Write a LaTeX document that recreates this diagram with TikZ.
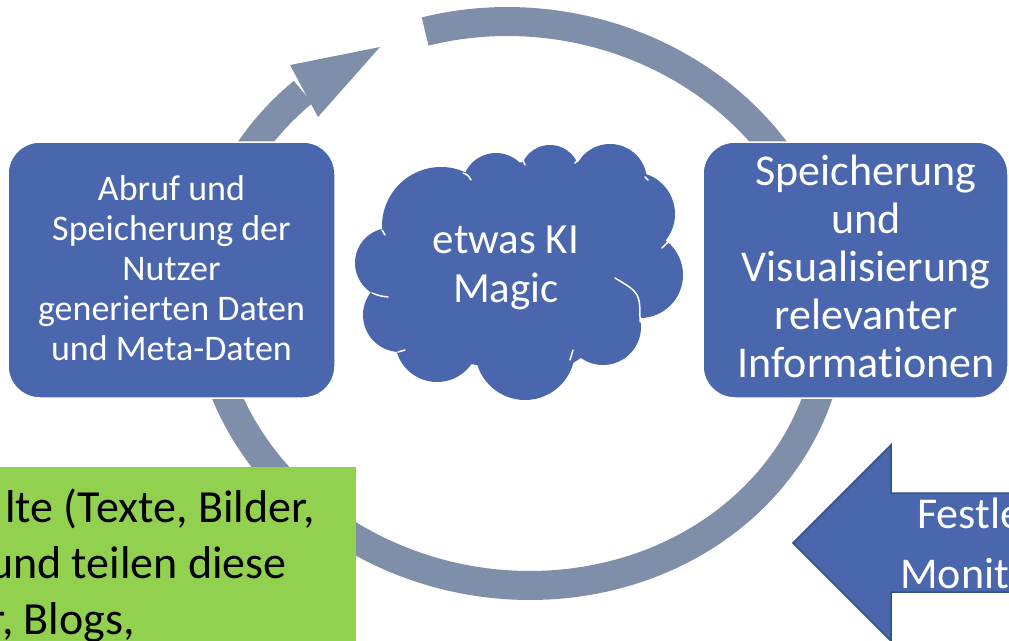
\documentclass[tikz,border=0pt]{standalone}
\usepackage{fontspec}
\setmainfont{Carlito}[Ligatures=NoCommon]
\definecolor{boxblue}{HTML}{4A66AC}
\definecolor{ringgrey}{HTML}{7F8FA9}
\definecolor{notegreen}{HTML}{92D050}
\definecolor{arrowrim}{HTML}{2F528F}
\newcommand\stack[1]{\begin{tabular}[t]{@{}c@{}}#1\end{tabular}}
\begin{document}
\begin{tikzpicture}[x=1pt,y=-1pt,
  ring/.style={draw=ringgrey, line width=29pt, line join=round},
  procbox/.style={rectangle, fill=boxblue, draw=white, line width=1.5pt, rounded corners=32pt, inner sep=0pt},
  boxtext/.style={text=white, inner sep=0pt, anchor=base},
  lobe/.style={fill=boxblue},
  puffline/.style={draw=white, line width=1.5pt, line cap=round},
  blockarrow/.style={fill=boxblue, draw=arrowrim, line width=1.5pt, line join=miter},
  notetext/.style={text=black, inner sep=0pt, anchor=base east, font=\fontsize{46}{56}\selectfont},
  arrowtext/.style={text=white, inner sep=0pt, anchor=base west, font=\fontsize{44}{60}\selectfont}]
\useasboundingbox (0,0) rectangle (1009,640);
\clip (0,0) rectangle (1009,640);

% cycle ring (slightly sheared ellipse) with its arrowhead
\draw[ring] plot[domain=254.7:588.6, samples=260, variable=\t]
  ({518.6+11.28*sin(\t)+313*cos(\t)}, {303.5+282*sin(\t)});
\fill[ringgrey] (290,65) -- (380,47) -- (318,117) -- cycle;

% process boxes
\node[procbox, minimum width=327pt, minimum height=256pt] (fetch) at (171.5,270) {};
\node[boxtext, font=\fontsize{36}{40}\selectfont] (fetchtxt) at (171.5,200)
  {\stack{Abruf und\\Speicherung der\\Nutzer\\generierten Daten\\und Meta-Daten}};

\node[procbox, minimum width=305pt, minimum height=256pt] (store) at (855.5,270) {};
\node[boxtext, font=\fontsize{44}{48}\selectfont] (storetxt) at (866,185)
  {\stack{Speicherung\\und\\Visualisierung\\relevanter\\Informationen}};

% cloud built from overlapping puffs
\fill[lobe] (383,230) -- (467,173) -- (523,162) -- (578,162) -- (645,177) -- (665,247)
  -- (640,320) -- (573,363) -- (475,365) -- (400,352) -- (373,295) -- cycle;
\fill[lobe] (390,263) circle[radius=35];
\fill[lobe] (441,226) circle[radius=59];
\fill[lobe] (496,187) circle[radius=34];
\fill[lobe] (550,175) circle[radius=30];
\fill[lobe] (610,181) circle[radius=37];
\fill[lobe] (633,214) circle[radius=42];
\fill[lobe] (640,275) circle[radius=43];
\fill[lobe] (603,327) circle[radius=38];
\fill[lobe] (525,350) circle[radius=50];
\fill[lobe] (437,340) circle[radius=42];
\fill[lobe] (400,315) circle[radius=37];
% inner puff seams
\draw[puffline] (463,173) .. controls (468,175) .. (471,180);
\draw[puffline] (522,158) .. controls (523,162) .. (525,165);
\draw[puffline] (575,163) .. controls (577,160) .. (580,158);
\draw[puffline] (645,177) .. controls (647,178) .. (648,180);
\draw[puffline] (662,248) .. controls (668,243) .. (673,237);
\draw[puffline] (615,278) .. controls (640,293) .. (640,322);
\draw[puffline] (382,230) .. controls (383,232) .. (385,235);
\draw[puffline] (372,293) .. controls (380,296) .. (388,297);
\draw[puffline] (398,352) .. controls (401,351) .. (405,350);
\draw[puffline] (473,365) .. controls (476,367) .. (478,370);
\draw[puffline] (570,360) .. controls (571,355) .. (573,350);
\node[boxtext, font=\fontsize{43}{49}\selectfont] (ki) at (506,253)
  {\stack{etwas KI\\Magic}};

% green note
\fill[notegreen] (-5,467) rectangle (356,650);
\node[notetext] (note1) at (315,522) {lte (Texte, Bilder,};
\node[notetext] (note2) at (287,578) {und teilen diese};
\node[notetext] (note3) at (135,634) {r, Blogs,};

% incoming block arrow
\draw[blockarrow] (793,543) -- (891,445) -- (891,493) -- (1020,493) -- (1020,592)
  -- (891,592) -- (891,641) -- cycle;
\node[arrowtext] (arr1) at (917,528) {Festle};
\node[arrowtext] (arr2) at (900,588) {Monit};
\end{tikzpicture}
\end{document}
